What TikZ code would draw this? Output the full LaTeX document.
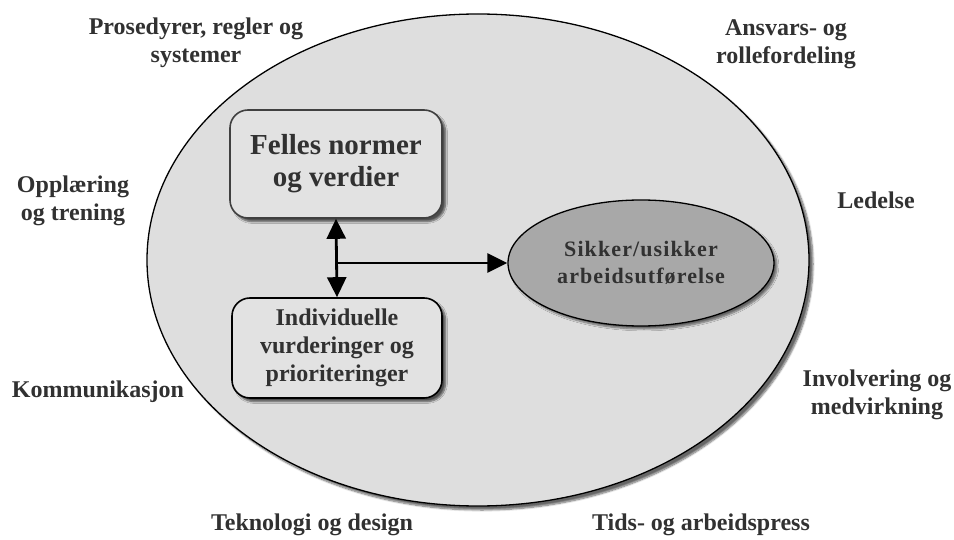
\documentclass[tikz,border=0pt]{standalone}
\usepackage{fontspec}
\setmainfont{Liberation Serif}
\usetikzlibrary{shapes.geometric,arrows.meta,shadows.blur}
\definecolor{txt}{HTML}{313131}
\definecolor{outerfill}{HTML}{DEDEDE}
\definecolor{boxfill}{HTML}{E2E2E2}
\definecolor{corefill}{HTML}{A8A8A8}
\tikzset{
  factor/.style={font=\fontsize{24}{28}\selectfont\bfseries, text=txt, align=center},
  normbox/.style={draw=black!75, line width=1.6pt, fill=boxfill, rounded corners=18pt,
    blur shadow={shadow xshift=3.5pt, shadow yshift=-3.5pt, shadow blur steps=6, shadow opacity=65},
    text=txt, align=center, inner sep=0pt},
  flow/.style={line width=2.8pt, black, >={Triangle[length=20pt,width=19pt]}}
}
\begin{document}
\begin{tikzpicture}[x=1pt,y=-1pt]
\useasboundingbox (0,0) rectangle (954,540);
% outer frame of influences
\node[ellipse, draw=black, line width=1.3pt, fill=outerfill, minimum width=662pt, minimum height=492pt,
  blur shadow={shadow xshift=4pt, shadow yshift=-4pt, shadow blur steps=8, shadow opacity=60}] (org) at (478,260) {};
% central boxes
\node[normbox, minimum width=212pt, minimum height=108pt,
  font=\fontsize{29}{32}\selectfont\bfseries] (norm) at (336,164) {Felles normer\\og verdier};
\node[normbox, draw=black, minimum width=210pt, minimum height=100pt,
  font=\fontsize{24}{28}\selectfont\bfseries] (indiv) at (337,348) {Individuelle\\vurderinger og\\prioriteringer};
% outcome
\node[ellipse, draw=black, line width=1.3pt, fill=corefill, minimum width=266pt, minimum height=126pt,
  blur shadow={shadow xshift=3pt, shadow yshift=-3pt, shadow blur steps=6, shadow opacity=55},
  text=txt, align=center, font=\fontsize{22}{27}\selectfont\bfseries\addfontfeature{LetterSpace=5}] (work) at (641,263)
  {Sikker/usikker\\arbeidsutførelse};
% connectors
\coordinate (mid) at (norm.south |- work.west);
\draw[flow, <->] (norm.south) -- (indiv.north);
\draw[flow, ->] (mid) -- (work.west);
% surrounding factors
\node[factor] (proc) at (196,43) {Prosedyrer, regler og\\systemer};
\node[factor] (ansv) at (786,44) {Ansvars- og\\rollefordeling};
\node[factor] (oppl) at (73,201) {Opplæring\\og trening};
\node[factor] (led) at (876,200) {Ledelse};
\node[factor] (komm) at (98,392) {Kommunikasjon};
\node[factor] (invo) at (877,395) {Involvering og\\medvirkning};
\node[factor] (tekn) at (312,525) {Teknologi og design};
\node[factor] (tids) at (701,525) {Tids- og arbeidspress};
\end{tikzpicture}
\end{document}
